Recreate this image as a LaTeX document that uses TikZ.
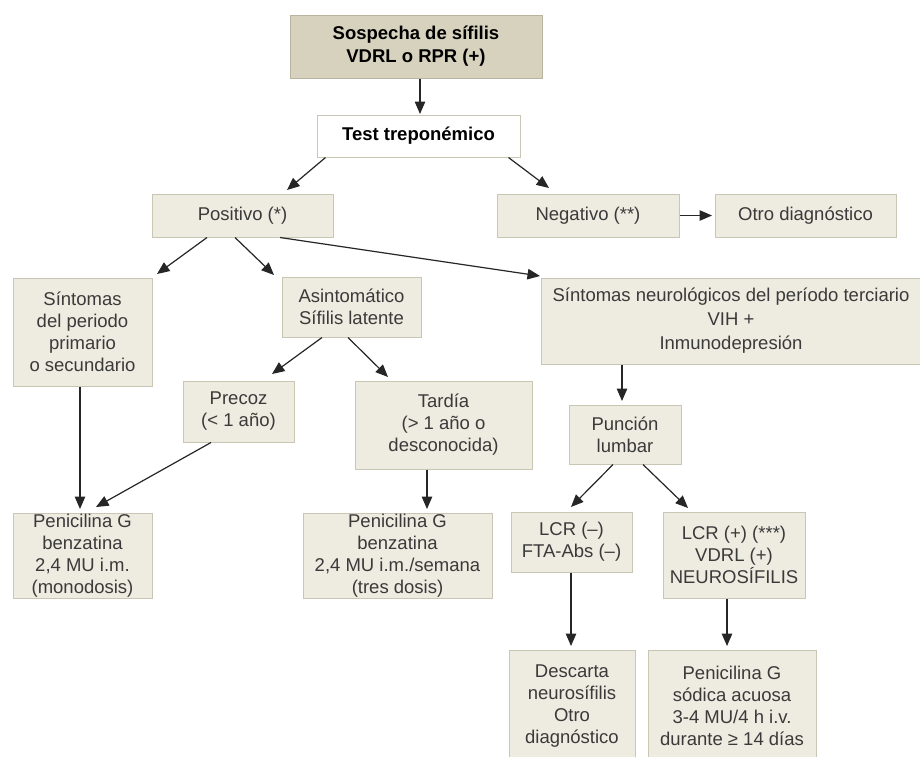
\documentclass[tikz,border=0pt]{standalone}
\usepackage{fontspec}
\setmainfont{Liberation Sans}
\usetikzlibrary{arrows.meta}
\definecolor{boxfill}{HTML}{EEEBE0}
\definecolor{boxline}{HTML}{C9C6B4}
\definecolor{topfill}{HTML}{D6D2BE}
\definecolor{topline}{HTML}{B8B4A0}
\definecolor{txt}{HTML}{3A3A3A}
\begin{document}
\begin{tikzpicture}[x=1pt,y=-1pt,
  bx/.style={draw=boxline,fill=boxfill,line width=1pt,inner sep=0pt,align=center,
    text=txt,font=\fontsize{18.5}{22}\selectfont},
  topbx/.style={bx,fill=topfill,draw=topline,text=black,font=\fontsize{18.5}{23}\selectfont\bfseries},
  whitebx/.style={bx,fill=white,text=black,font=\fontsize{18.5}{22}\selectfont\bfseries},
  arr/.style={line width=1.2pt,draw=black!85,-{Triangle[width=10.5pt,length=12.5pt]}}]
\path[use as bounding box,fill=white] (0,0) rectangle (920,756);

\node[topbx,minimum width=252pt,minimum height=63pt] (top) at (416,46.5) {Sospecha de sífilis\\VDRL o RPR (+)};
\node[whitebx,minimum width=203pt,minimum height=42pt] (test) at (418.5,136) {Test treponémico};
\node[bx,minimum width=181pt,minimum height=43pt] (pos) at (242.5,215.5) {Positivo (*)};
\node[bx,minimum width=182pt,minimum height=43pt] (neg) at (588,215.5) {Negativo (**)};
\node[bx,minimum width=181pt,minimum height=43pt] (otro) at (805.5,215.5) {Otro diagnóstico};
\node[bx,minimum width=139pt,minimum height=108pt] (sintp) at (82.5,332) {Síntomas\\del periodo\\primario\\o secundario};
\node[bx,minimum width=139pt,minimum height=60pt] (asin) at (351.5,307) {Asintomático\\Sífilis latente};
\node[bx,minimum width=380pt,minimum height=86pt,font=\fontsize{18.5}{24}\selectfont] (neuro) at (731,321) {Síntomas neurológicos del período terciario\\VIH +\\Inmunodepresión};
\node[bx,minimum width=111pt,minimum height=61pt] (precoz) at (238.5,411.5) {Precoz\\(< 1 año)};
\node[bx,minimum width=177pt,minimum height=88pt] (tardia) at (443.5,425) {Tardía\\(> 1 año o\\desconocida)};
\node[bx,minimum width=112pt,minimum height=59pt] (punc) at (625,434.5) {Punción\\lumbar};
\node[bx,minimum width=139pt,minimum height=85pt] (penl) at (82.5,555.5) {Penicilina G\\benzatina\\2,4 MU i.m.\\(monodosis)};
\node[bx,minimum width=189pt,minimum height=85pt] (penc) at (397.5,555.5) {Penicilina G\\benzatina\\2,4 MU i.m./semana\\(tres dosis)};
\node[bx,minimum width=121pt,minimum height=60pt] (lcrn) at (571.5,542) {LCR (–)\\FTA-Abs (–)};
\node[bx,minimum width=142pt,minimum height=86pt] (lcrp) at (734,555) {LCR (+) (***)\\VDRL (+)\\NEUROSÍFILIS};
\node[bx,minimum width=126pt,minimum height=112pt] (desc) at (572,706) {Descarta\\neurosífilis\\Otro\\diagnóstico};
\node[bx,minimum width=168pt,minimum height=112pt] (sod) at (732,706) {Penicilina G\\sódica acuosa\\3-4 MU/4 h i.v.\\durante ≥ 14 días};

% arrow end points (free ends just short of the target boxes)
\coordinate (eTest) at (420,114);
\coordinate (ePos) at (287,190);
\coordinate (eNeg) at (549,188);
\coordinate (eOtro) at (712,215.5);
\coordinate (eSintp) at (157,274);
\coordinate (eAsin) at (274,275);
\coordinate (eNeuro) at (540,276);
\coordinate (ePrecoz) at (272,374);
\coordinate (eTardia) at (388,377);
\coordinate (ePenl1) at (80,509);
\coordinate (ePenl2) at (96,507);
\coordinate (ePenc) at (427,509);
\coordinate (ePunc) at (622,401);
\coordinate (eLcrn) at (571,507);
\coordinate (eLcrp) at (688,508);
\coordinate (eDesc) at (571,646);
\coordinate (eSod) at (727,646);

\draw[arr] (top.south -| eTest) -- (eTest);
\draw[arr] ([xshift=9pt]test.south west) -- (ePos);
\draw[arr] ([xshift=-12pt]test.south east) -- (eNeg);
\draw[arr] (neg.east) -- (eOtro);
\draw[arr] ([xshift=-35.5pt]pos.south) -- (eSintp);
\draw[arr] ([xshift=-7.5pt]pos.south) -- (eAsin);
\draw[arr] ([xshift=37.5pt]pos.south) -- (eNeuro);
\draw[arr] ([xshift=-29.5pt]asin.south) -- (ePrecoz);
\draw[arr] ([xshift=-3.5pt]asin.south) -- (eTardia);
\draw[arr] (sintp.south -| ePenl1) -- (ePenl1);
\draw[arr] ([xshift=-27.5pt]precoz.south) -- (ePenl2);
\draw[arr] (tardia.south -| ePenc) -- (ePenc);
\draw[arr] (neuro.south -| ePunc) -- (ePunc);
\draw[arr] ([xshift=-12pt]punc.south) -- (eLcrn);
\draw[arr] ([xshift=18pt]punc.south) -- (eLcrp);
\draw[arr] (lcrn.south -| eDesc) -- (eDesc);
\draw[arr] (lcrp.south -| eSod) -- (eSod);
\end{tikzpicture}
\end{document}
